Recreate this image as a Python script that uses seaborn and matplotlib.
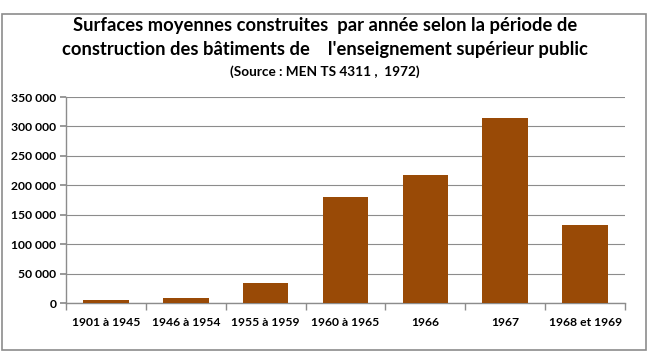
import matplotlib
matplotlib.use("Agg")
import matplotlib.pyplot as plt
import seaborn as sns
import pandas as pd
from matplotlib.ticker import FuncFormatter, FixedLocator

categories = ["1901 à 1945", "1946 à 1954", "1955 à 1959", "1960 à 1965", "1966", "1967", "1968 et 1969"]
values = [4500, 8000, 34000, 180000, 217000, 315000, 132000]

df = pd.DataFrame({"periode": categories, "surface": values})

sns.set_theme(style="white")
plt.rcParams['font.family'] = ['Lato', 'DejaVu Sans']
plt.rcParams['text.color'] = 'black'

fig = plt.figure(figsize=(6.5, 3.52), dpi=100)
ax = fig.add_axes([66/650, 1 - 303/352, (625-66)/650, (303-97)/352])

sns.barplot(data=df, x="periode", y="surface", color="#994A06", width=0.57,
            saturation=1, linewidth=0, ax=ax, zorder=3)

ax.set_ylim(0, 350000)
ax.set_xlim(-0.5, len(categories) - 0.5)
ax.set_yticks(range(0, 350001, 50000))
ax.yaxis.set_major_formatter(FuncFormatter(lambda v, p: f"{int(v):,}".replace(",", " ")))
ax.grid(axis="y", color="#8c8c8c", linewidth=0.8, zorder=0)
ax.set_xlabel("")
ax.set_ylabel("")
for s in ["top", "right"]:
    ax.spines[s].set_visible(False)
for s in ["left", "bottom"]:
    ax.spines[s].set_color("#8c8c8c")
    ax.spines[s].set_linewidth(1)

ax.tick_params(axis="x", length=0, labelsize=8.7, pad=10)
ax.tick_params(axis="y", length=4, color="#8c8c8c", labelsize=8.7, pad=3, direction="out", left=True)
ax.xaxis.set_minor_locator(FixedLocator([i - 0.5 for i in range(len(categories) + 1)]))
ax.tick_params(axis="x", which="minor", length=5, color="#8c8c8c", direction="out", bottom=True)
for lab in ax.get_xticklabels() + ax.get_yticklabels():
    lab.set_fontweight("bold")
    lab.set_color("black")

fig.text(0.5, 1 - 25/352, "Surfaces moyennes construites  par année selon la période de",
         ha="center", va="center", fontsize=13.2, fontweight="bold", color="black")
fig.text(0.5, 1 - 49/352, "construction des bâtiments de    l'enseignement supérieur public",
         ha="center", va="center", fontsize=13.2, fontweight="bold", color="black")
fig.text(0.5, 1 - 72/352, "(Source : MEN TS 4311 ,  1972)",
         ha="center", va="center", fontsize=9.8, fontweight="bold", color="black")

border = plt.Rectangle((2/650, 2/352), 644/650, 336/352, transform=fig.transFigure,
                       fill=False, edgecolor="#8c8c8c", linewidth=1.2)
fig.patches.append(border)

fig.savefig("out.png", dpi=100)
